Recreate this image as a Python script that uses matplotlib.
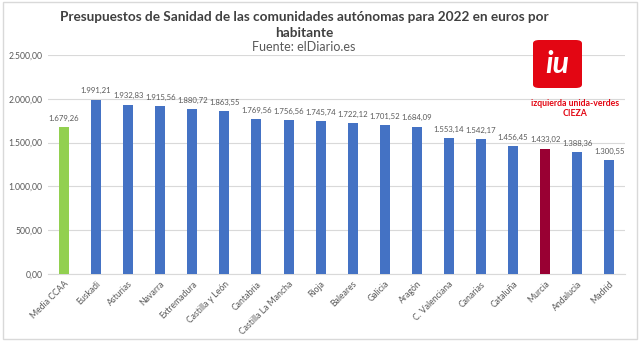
import matplotlib
matplotlib.use("Agg")
import matplotlib.pyplot as plt
from matplotlib.patches import FancyBboxPatch, Rectangle

# datos
comunidades = ["Media CCAA", "Euskadi", "Asturias", "Navarra", "Extremadura", "Castilla y León",
               "Cantabria", "Castilla La Mancha", "Rioja", "Baleares", "Galicia", "Aragón",
               "C. Valenciana", "Canarias", "Cataluña", "Murcia", "Andalucía", "Madrid"]
euros = [1679.26, 1991.21, 1932.83, 1915.56, 1880.72, 1863.55, 1769.56, 1756.56, 1745.74,
         1722.12, 1701.52, 1684.09, 1553.14, 1542.17, 1456.45, 1433.02, 1388.36, 1300.55]
yticks = [0, 500, 1000, 1500, 2000, 2500]

azul = "#4472C4"
verde = "#92D050"
granate = "#990033"
gris = "#595959"


def formato(v):
    s = f"{v:,.2f}"
    return s.replace(",", "X").replace(".", ",").replace("X", ".")


colores = []
for c in comunidades:
    if c == "Media CCAA":
        colores.append(verde)
    elif c == "Murcia":
        colores.append(granate)
    else:
        colores.append(azul)

plt.rcParams["font.family"] = ["Lato", "DejaVu Sans"]

fig = plt.figure(figsize=(6.4, 3.41), dpi=100)
fig.patch.set_facecolor("white")
fig.patches.append(Rectangle((0.004, 0.006), 0.992, 0.988, transform=fig.transFigure,
                             fill=False, edgecolor="#D9D9D9", linewidth=1))

ax = fig.add_axes([0.075, 0.1965, 0.902, 0.642])
x = range(len(comunidades))
barras = ax.bar(x, euros, width=0.31, color=colores, zorder=3)

for xi, v in zip(x, euros):
    ax.text(xi, v + 60, formato(v), ha="center", va="bottom", fontsize=5.6, color=gris)

ax.set_ylim(0, 2500)
ax.set_xlim(-0.5, len(comunidades) - 0.5)
ax.set_yticks(yticks)
ax.set_yticklabels([formato(t) for t in yticks], fontsize=6.2, color=gris)
ax.set_xticks(list(x))
ax.set_xticklabels(comunidades, rotation=45, ha="right", rotation_mode="anchor",
                   fontsize=6.2, color=gris)
ax.tick_params(axis="both", length=0, pad=4)
ax.grid(axis="y", color="#D9D9D9", linewidth=0.8, zorder=0)
for lado in ["top", "right", "left"]:
    ax.spines[lado].set_visible(False)
ax.spines["bottom"].set_color("#D9D9D9")

fig.text(0.475, 0.95, "Presupuestos de Sanidad de las comunidades autónomas para 2022 en euros por",
         ha="center", va="center", fontsize=9.8, fontweight="bold", color="#404040")
fig.text(0.475, 0.902, "habitante", ha="center", va="center", fontsize=9.8,
         fontweight="bold", color="#404040")
fig.text(0.475, 0.862, "Fuente: elDiario.es", ha="center", va="center", fontsize=9,
         color=gris)

# logo
logo = FancyBboxPatch((533 / 640, 1 - 88 / 341), 49 / 640, 48 / 341,
                      boxstyle="round,pad=0.0,rounding_size=0.01",
                      transform=fig.transFigure, facecolor="#E30613", edgecolor="none")
fig.patches.append(logo)
fig.text(557.5 / 640, 1 - 64 / 341, "iu", ha="center", va="center", fontsize=22,
         fontweight="bold", style="italic", color="white")
fig.text(575 / 640, 1 - 104 / 341, "izquierda unida-verdes", ha="center", va="center",
         fontsize=6.3, fontweight="bold", color="#E30613")
fig.text(575 / 640, 1 - 113.5 / 341, "CIEZA", ha="center", va="center",
         fontsize=6.3, fontweight="bold", color="#E30613")

fig.savefig("out.png", dpi=100)
